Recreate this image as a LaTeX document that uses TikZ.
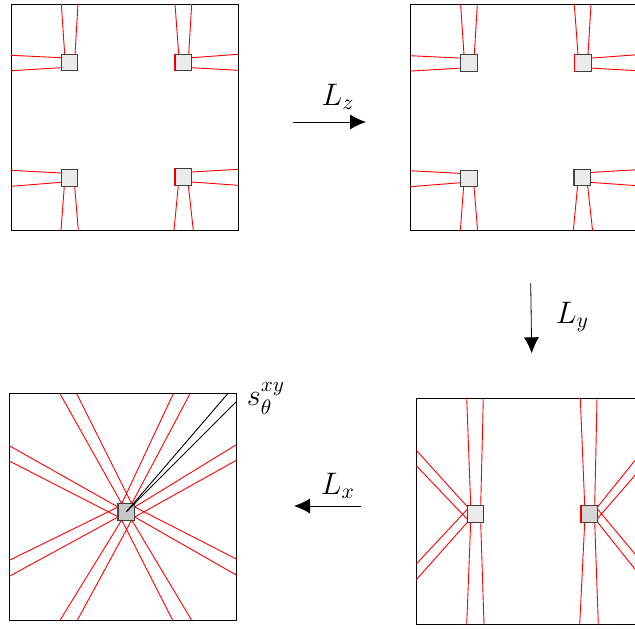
\documentclass[tikz,border=0pt]{standalone}
\usepackage{amsmath}
\usepackage{tikz}
\usetikzlibrary{positioning,arrows.meta}
\newcommand{\cornergrid}{%
  \draw[panel] (11,4) rectangle (238,230.3);
  \draw[ray] (61.3,4) -- (64.7,54.3) (78,4) -- (75,54.3)
             (11,55.3) -- (61.3,57.7) (11,70.7) -- (61.3,67.7);
  \draw[ray] (175,4) -- (178.7,54.3) (191.7,4) -- (188.7,54.3)
             (191.7,57.7) -- (238,54.3) (191.7,67.7) -- (238,70.3);
  \draw[ray] (11,170.3) -- (61.3,173) (11,186.3) -- (61.3,182.3)
             (64.3,186.3) -- (61,230.3) (74.7,186.3) -- (78.3,230.3);
  \draw[ray] (191.7,172) -- (238,169.3) (191.7,182) -- (238,185.3)
             (178.3,185.3) -- (174,230.3) (188.3,185.3) -- (193.3,230.3);
  \node[sensor] (tl) at (69.7,62.5) {};
  \node[sensor] (tr) at (183.5,62.6) {};
  \node[sensor] (bl) at (69.7,178.2) {};
  \node[sensor] (br) at (183.3,177.2) {};
  \draw[ray] (tr.south west) -- (tr.north west);
  \draw[ray] (br.south west) -- (br.north west);
}
\begin{document}
\begin{tikzpicture}[
  x=.5pt,y=-.5pt,
  font=\Large,
  panel/.style={draw,line width=.45pt},
  ray/.style={red,line width=.45pt},
  beam/.style={black,line width=.45pt},
  sensor/.style={draw=black!75,fill=black!8,line width=.5pt,
                 minimum size=8.25pt,inner sep=0pt},
  arrow/.style={-{Latex[length=8pt,width=7.5pt]},line width=.4pt}]
\clip (0,0) rectangle (635,628);
% top row
\begin{scope}[name prefix=zfirst-]
\cornergrid
\end{scope}
\begin{scope}[name prefix=zsecond-,shift={(399.3,.4)}]
\cornergrid
\end{scope}
\coordinate (zfrom) at (293,122);
\coordinate (zto) at (366,122);
\draw[arrow] (zfrom) -- (zto);
\node[scale=1.08] (lz) at (338,97) {$L_z$};
% bottom right panel
\draw[panel] (416.3,398) rectangle (643.3,624.7);
\draw[ray] (466.7,398) -- (470.7,506) (483.3,398) -- (480.7,506)
           (470.7,522.3) -- (466.7,624.7) (480.7,522.3) -- (484,624.7);
\draw[ray] (416.3,450.3) -- (467.3,506.7) (416.3,465.7) -- (467.3,519.3)
           (416.3,564) -- (467.3,509.3) (416.3,579.7) -- (467.3,522.3);
\draw[ray] (580.3,398) -- (584.7,506) (597,398) -- (594.7,506)
           (584.7,522.3) -- (579.7,624.7) (594.7,522.3) -- (598.3,624.7);
\draw[ray] (643.3,450) -- (597.7,506.7) (643.3,465.7) -- (597.7,518.3)
           (643.3,564) -- (597.7,509.3) (643.3,579.7) -- (597.7,522.3);
\node[sensor] (yleft) at (475.5,514.2) {};
\node[sensor,fill=black!16] (yright) at (589.3,514.2) {};
\draw[ray] (yright.south west) -- (yright.north west);
\coordinate (yfrom) at (530.7,283);
\coordinate (yto) at (531.7,353.3);
\draw[arrow] (yfrom) -- (yto);
\node[scale=1.08] (ly) at (572.5,317) {$L_y$};
% bottom left panel
\draw[panel] (9.3,393.7) rectangle (236.3,620.3);
\draw[ray] (60,393.7) -- (121.7,503.7) (76.7,393.7) -- (131.7,503.7)
           (173.3,393.7) -- (121.7,503.7) (190,393.7) -- (131.7,503.7);
\draw[ray] (60,620.3) -- (121.7,520) (77.3,620.3) -- (131.7,520)
           (172.7,620.3) -- (121.7,520) (191.7,620.3) -- (131.7,520);
\draw[ray] (9.3,445.7) -- (118,507) (9.3,461) -- (118,516.7)
           (9.3,560.3) -- (118,507) (9.3,576.3) -- (118,517);
\draw[ray] (236.3,444.7) -- (134.7,507) (236.3,460.3) -- (134.7,517)
           (236.3,559) -- (134.7,507) (236.3,575) -- (134.7,517);
\node[sensor,fill=black!22] (xcell) at (126.3,511.8) {};
\draw[ray,line width=.7pt] (xcell.south west) -- (xcell.north west);
\draw[beam] (xcell.center) -- (227.7,393.7);
\draw[beam] (xcell.center) -- (236,402);
\node[scale=1.05] (sxy) at (266,398.5) {$s_\theta^{xy}$};
\coordinate (xfrom) at (361,506);
\coordinate (xto) at (294,506);
\draw[arrow] (xfrom) -- (xto);
\node[scale=1.08] (lx) at (338,486) {$L_x$};
\end{tikzpicture}
\end{document}
